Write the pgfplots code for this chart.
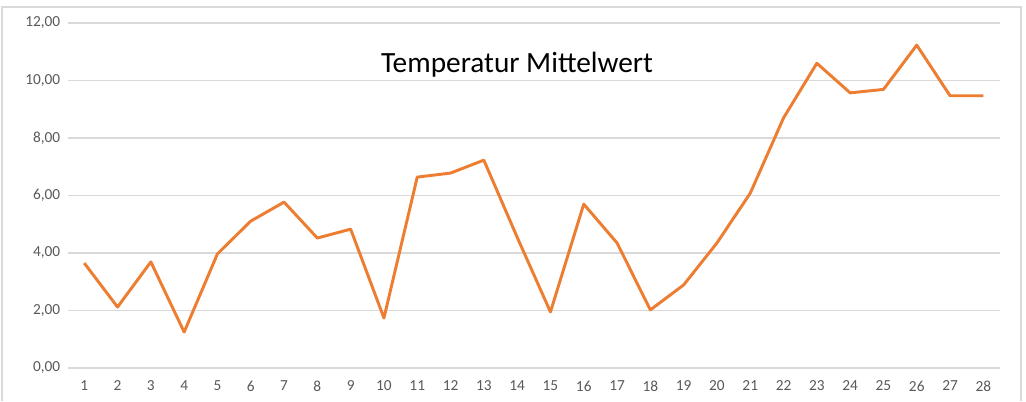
\documentclass[border=0pt]{standalone}
\usepackage{pgfplots}
\pgfplotsset{compat=1.18}
\usepackage{fontspec}
\setmainfont{Carlito}
\definecolor{lineor}{HTML}{ED7D31}
\definecolor{gridg}{HTML}{D9D9D9}
\definecolor{tickg}{HTML}{595959}
\begin{document}
\begin{tikzpicture}
\useasboundingbox (0pt,0pt) rectangle (769.5pt,300.75pt);
\fill[white] (0pt,0pt) rectangle (769.5pt,300.75pt);
\draw[gridg,line width=1pt] (1.5pt,0pt) -- (1.5pt,295.5pt) -- (765.75pt,295.5pt) -- (765.75pt,0pt);
\begin{axis}[
  at={(50.7pt,24.75pt)}, anchor=south west,
  scale only axis, width=699.3pt, height=258.75pt,
  xmin=0.5, xmax=28.5, ymin=0, ymax=12,
  axis line style={draw=none},
  xtick={1,...,28}, ytick={0,2,...,12},
  major tick length=0pt,
  ymajorgrids, grid style={gridg, line width=0.8pt},
  /pgf/number format/assume math mode=true,
  yticklabel style={font=\fontsize{11.5}{12}\selectfont, text=tickg, xshift=-2pt, /pgf/number format/.cd, fixed, fixed zerofill, precision=2, use comma},
  xticklabel style={font=\fontsize{11.5}{12}\selectfont, text=tickg, yshift=-6pt},
  title={Temperatur Mittelwert},
  title style={at={(rel axis cs:0.482,0.855)}, anchor=center, font=\fontsize{22}{24}\selectfont},
]
\addplot[lineor, line width=2.2pt, mark=none, line join=round] coordinates {
(1,3.65) (2,2.12) (3,3.69) (4,1.25) (5,3.97) (6,5.11) (7,5.77) (8,4.52) (9,4.83) (10,1.74)
(11,6.64) (12,6.78) (13,7.23) (14,4.55) (15,1.95) (16,5.70) (17,4.35) (18,2.02) (19,2.89) (20,4.35)
(21,6.08) (22,8.70) (23,10.60) (24,9.57) (25,9.69) (26,11.23) (27,9.47) (28,9.47)
};
\end{axis}
\end{tikzpicture}
\end{document}
